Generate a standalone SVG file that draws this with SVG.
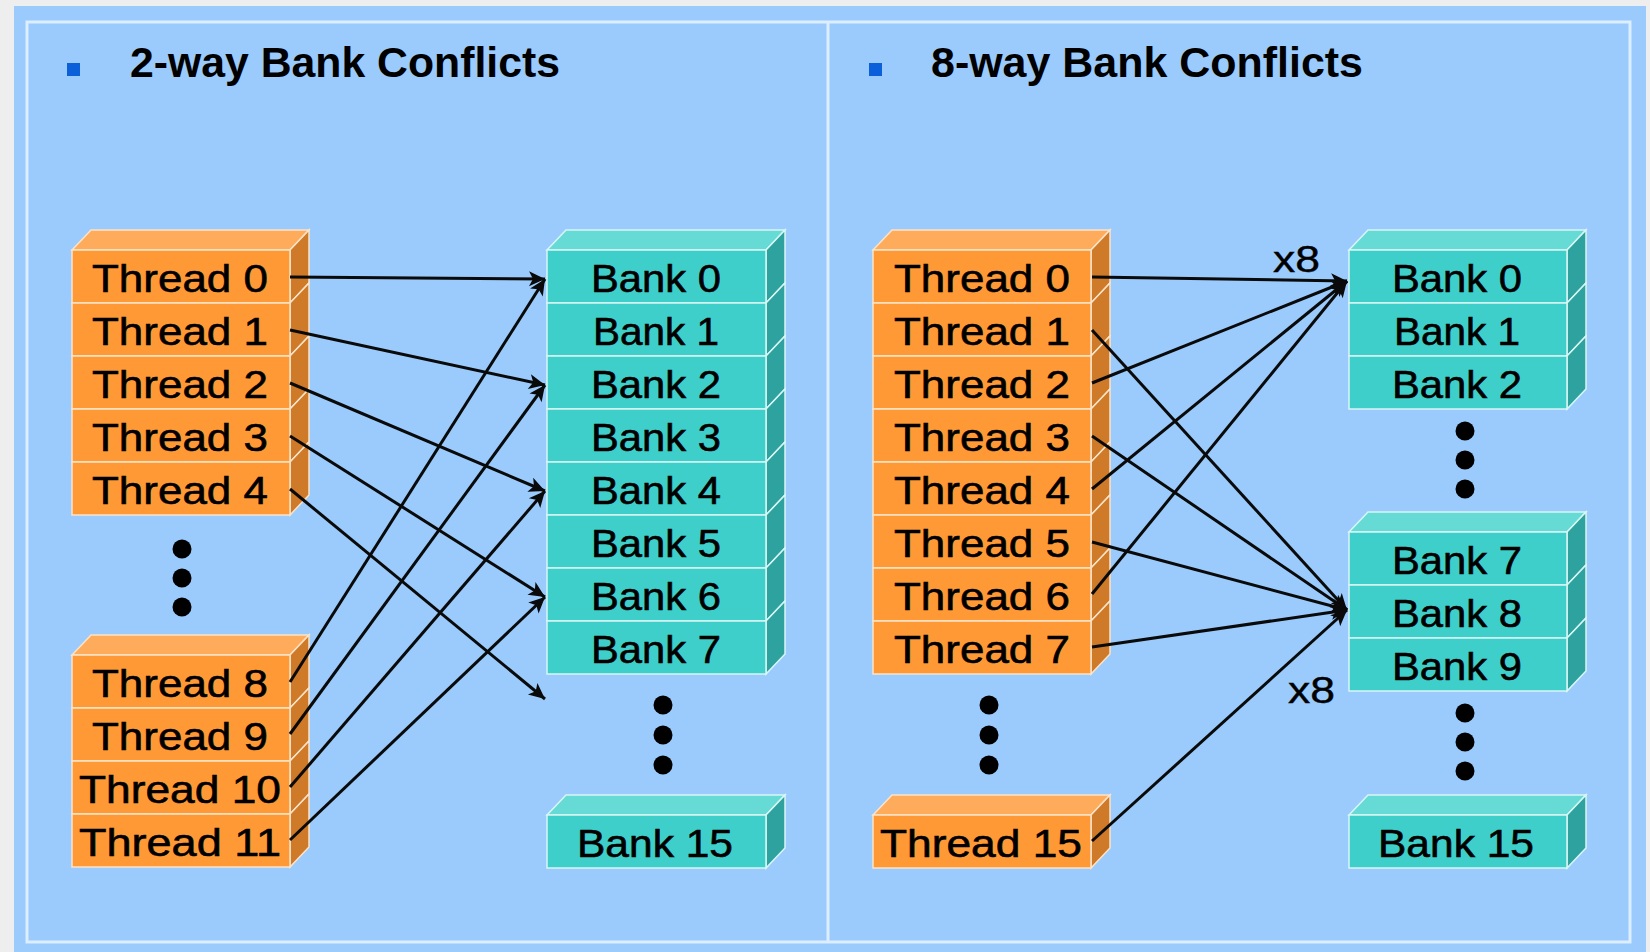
<svg xmlns="http://www.w3.org/2000/svg" width="1650" height="952" viewBox="0 0 1650 952">
<defs>
<style>
.fo{fill:#FE9935;stroke:#FBE3C8;stroke-width:1.5}
.so{fill:#CF7A28;stroke:#FBE3C8;stroke-width:1.5}
.to{fill:#FEAC5B;stroke:#FBE3C8;stroke-width:1.5}
.fb{fill:#3FCFCA;stroke:#D8F6F4;stroke-width:1.5}
.sb{fill:#2DA29E;stroke:#D8F6F4;stroke-width:1.5}
.tb{fill:#66DAD5;stroke:#D8F6F4;stroke-width:1.5}
.lbl{font-family:"Liberation Sans",Arial,sans-serif;font-size:39px;fill:#000;stroke:#000;stroke-width:0.6;text-anchor:middle}
.ttl{font-family:"Liberation Sans",Arial,sans-serif;font-size:42px;font-weight:bold;fill:#000}
.x8{font-family:"Liberation Sans",Arial,sans-serif;font-size:36px;fill:#000;stroke:#000;stroke-width:0.4}
.ln{stroke:#0A0A0A;stroke-width:3;fill:none;marker-end:url(#ah)}
.dot{fill:#000}
.border{stroke:#DCEEFF;stroke-width:3;fill:none}
</style>
<marker id="ah" markerUnits="userSpaceOnUse" markerWidth="18" markerHeight="16" refX="16" refY="7.5" orient="auto" overflow="visible">
<path d="M0,0 L16,7.5 L0,15 L4,7.5 Z" fill="#0A0A0A"/>
</marker>
</defs>
<rect x="0" y="0" width="1650" height="952" fill="#EEEEEE"/>
<rect x="14" y="6" width="1632" height="946" fill="#9ACBFC"/>
<path class="border" d="M27,22 H1630 V942 H27 Z"/>
<line class="border" x1="828" y1="22" x2="828" y2="942" stroke-width="4"/>

<g id="title-left">
<rect x="67" y="63" width="13" height="13" fill="#0B5FD8"/>
<text class="ttl" x="130" y="77" textLength="430" lengthAdjust="spacingAndGlyphs">2-way Bank Conflicts</text>
</g>
<g id="title-right">
<rect x="869" y="63" width="13" height="13" fill="#0B5FD8"/>
<text class="ttl" x="931" y="77" textLength="432" lengthAdjust="spacingAndGlyphs">8-way Bank Conflicts</text>
</g>

<!-- LEFT PANEL: threads 0-4 -->
<g id="l-thread-0"><polygon class="to" points="72,250 91,230 309,230 290,250"/><polygon class="so" points="290,250 309,230 309,283 290,303"/><rect class="fo" x="72" y="250" width="218" height="53"/><text class="lbl" x="180" y="292" textLength="176" lengthAdjust="spacingAndGlyphs">Thread 0</text></g>
<g id="l-thread-1"><polygon class="so" points="290,303 309,283 309,336 290,356"/><rect class="fo" x="72" y="303" width="218" height="53"/><text class="lbl" x="180" y="345" textLength="176" lengthAdjust="spacingAndGlyphs">Thread 1</text></g>
<g id="l-thread-2"><polygon class="so" points="290,356 309,336 309,389 290,409"/><rect class="fo" x="72" y="356" width="218" height="53"/><text class="lbl" x="180" y="398" textLength="176" lengthAdjust="spacingAndGlyphs">Thread 2</text></g>
<g id="l-thread-3"><polygon class="so" points="290,409 309,389 309,442 290,462"/><rect class="fo" x="72" y="409" width="218" height="53"/><text class="lbl" x="180" y="451" textLength="176" lengthAdjust="spacingAndGlyphs">Thread 3</text></g>
<g id="l-thread-4"><polygon class="so" points="290,462 309,442 309,495 290,515"/><rect class="fo" x="72" y="462" width="218" height="53"/><text class="lbl" x="180" y="504" textLength="176" lengthAdjust="spacingAndGlyphs">Thread 4</text></g>
<g id="l-thread-dots"><circle class="dot" cx="182" cy="549" r="9.5"/><circle class="dot" cx="182" cy="578" r="9.5"/><circle class="dot" cx="182" cy="607" r="9.5"/></g>
<!-- threads 8-11 -->
<g id="l-thread-8"><polygon class="to" points="72,655 91,635 309,635 290,655"/><polygon class="so" points="290,655 309,635 309,688 290,708"/><rect class="fo" x="72" y="655" width="218" height="53"/><text class="lbl" x="180" y="697" textLength="176" lengthAdjust="spacingAndGlyphs">Thread 8</text></g>
<g id="l-thread-9"><polygon class="so" points="290,708 309,688 309,741 290,761"/><rect class="fo" x="72" y="708" width="218" height="53"/><text class="lbl" x="180" y="750" textLength="176" lengthAdjust="spacingAndGlyphs">Thread 9</text></g>
<g id="l-thread-10"><polygon class="so" points="290,761 309,741 309,794 290,814"/><rect class="fo" x="72" y="761" width="218" height="53"/><text class="lbl" x="180" y="803" textLength="202" lengthAdjust="spacingAndGlyphs">Thread 10</text></g>
<g id="l-thread-11"><polygon class="so" points="290,814 309,794 309,847 290,867"/><rect class="fo" x="72" y="814" width="218" height="53"/><text class="lbl" x="180" y="856" textLength="202" lengthAdjust="spacingAndGlyphs">Thread 11</text></g>

<!-- LEFT PANEL: banks -->
<g id="l-bank-0"><polygon class="tb" points="547,250 566,230 785,230 766,250"/><polygon class="sb" points="766,250 785,230 785,283 766,303"/><rect class="fb" x="547" y="250" width="219" height="53"/><text class="lbl" x="656" y="292" textLength="130" lengthAdjust="spacingAndGlyphs">Bank 0</text></g>
<g id="l-bank-1"><polygon class="sb" points="766,303 785,283 785,336 766,356"/><rect class="fb" x="547" y="303" width="219" height="53"/><text class="lbl" x="656" y="345" textLength="126" lengthAdjust="spacingAndGlyphs">Bank 1</text></g>
<g id="l-bank-2"><polygon class="sb" points="766,356 785,336 785,389 766,409"/><rect class="fb" x="547" y="356" width="219" height="53"/><text class="lbl" x="656" y="398" textLength="130" lengthAdjust="spacingAndGlyphs">Bank 2</text></g>
<g id="l-bank-3"><polygon class="sb" points="766,409 785,389 785,442 766,462"/><rect class="fb" x="547" y="409" width="219" height="53"/><text class="lbl" x="656" y="451" textLength="130" lengthAdjust="spacingAndGlyphs">Bank 3</text></g>
<g id="l-bank-4"><polygon class="sb" points="766,462 785,442 785,495 766,515"/><rect class="fb" x="547" y="462" width="219" height="53"/><text class="lbl" x="656" y="504" textLength="130" lengthAdjust="spacingAndGlyphs">Bank 4</text></g>
<g id="l-bank-5"><polygon class="sb" points="766,515 785,495 785,548 766,568"/><rect class="fb" x="547" y="515" width="219" height="53"/><text class="lbl" x="656" y="557" textLength="130" lengthAdjust="spacingAndGlyphs">Bank 5</text></g>
<g id="l-bank-6"><polygon class="sb" points="766,568 785,548 785,601 766,621"/><rect class="fb" x="547" y="568" width="219" height="53"/><text class="lbl" x="656" y="610" textLength="130" lengthAdjust="spacingAndGlyphs">Bank 6</text></g>
<g id="l-bank-7"><polygon class="sb" points="766,621 785,601 785,654 766,674"/><rect class="fb" x="547" y="621" width="219" height="53"/><text class="lbl" x="656" y="663" textLength="130" lengthAdjust="spacingAndGlyphs">Bank 7</text></g>
<g id="l-bank-dots"><circle class="dot" cx="663" cy="705" r="9.5"/><circle class="dot" cx="663" cy="735" r="9.5"/><circle class="dot" cx="663" cy="765" r="9.5"/></g>
<g id="l-bank-15"><polygon class="tb" points="547,815 566,795 785,795 766,815"/><polygon class="sb" points="766,815 785,795 785,848 766,868"/><rect class="fb" x="547" y="815" width="219" height="53"/><text class="lbl" x="655" y="857" textLength="156" lengthAdjust="spacingAndGlyphs">Bank 15</text></g>

<!-- RIGHT PANEL: threads -->
<g id="r-thread-0"><polygon class="to" points="873,250 892,230 1110,230 1091,250"/><polygon class="so" points="1091,250 1110,230 1110,283 1091,303"/><rect class="fo" x="873" y="250" width="218" height="53"/><text class="lbl" x="982" y="292" textLength="176" lengthAdjust="spacingAndGlyphs">Thread 0</text></g>
<g id="r-thread-1"><polygon class="so" points="1091,303 1110,283 1110,336 1091,356"/><rect class="fo" x="873" y="303" width="218" height="53"/><text class="lbl" x="982" y="345" textLength="176" lengthAdjust="spacingAndGlyphs">Thread 1</text></g>
<g id="r-thread-2"><polygon class="so" points="1091,356 1110,336 1110,389 1091,409"/><rect class="fo" x="873" y="356" width="218" height="53"/><text class="lbl" x="982" y="398" textLength="176" lengthAdjust="spacingAndGlyphs">Thread 2</text></g>
<g id="r-thread-3"><polygon class="so" points="1091,409 1110,389 1110,442 1091,462"/><rect class="fo" x="873" y="409" width="218" height="53"/><text class="lbl" x="982" y="451" textLength="176" lengthAdjust="spacingAndGlyphs">Thread 3</text></g>
<g id="r-thread-4"><polygon class="so" points="1091,462 1110,442 1110,495 1091,515"/><rect class="fo" x="873" y="462" width="218" height="53"/><text class="lbl" x="982" y="504" textLength="176" lengthAdjust="spacingAndGlyphs">Thread 4</text></g>
<g id="r-thread-5"><polygon class="so" points="1091,515 1110,495 1110,548 1091,568"/><rect class="fo" x="873" y="515" width="218" height="53"/><text class="lbl" x="982" y="557" textLength="176" lengthAdjust="spacingAndGlyphs">Thread 5</text></g>
<g id="r-thread-6"><polygon class="so" points="1091,568 1110,548 1110,601 1091,621"/><rect class="fo" x="873" y="568" width="218" height="53"/><text class="lbl" x="982" y="610" textLength="176" lengthAdjust="spacingAndGlyphs">Thread 6</text></g>
<g id="r-thread-7"><polygon class="so" points="1091,621 1110,601 1110,654 1091,674"/><rect class="fo" x="873" y="621" width="218" height="53"/><text class="lbl" x="982" y="663" textLength="176" lengthAdjust="spacingAndGlyphs">Thread 7</text></g>
<g id="r-thread-dots"><circle class="dot" cx="989" cy="705" r="9.5"/><circle class="dot" cx="989" cy="735" r="9.5"/><circle class="dot" cx="989" cy="765" r="9.5"/></g>
<g id="r-thread-15"><polygon class="to" points="873,815 892,795 1110,795 1091,815"/><polygon class="so" points="1091,815 1110,795 1110,848 1091,868"/><rect class="fo" x="873" y="815" width="218" height="53"/><text class="lbl" x="981" y="857" textLength="202" lengthAdjust="spacingAndGlyphs">Thread 15</text></g>

<!-- RIGHT PANEL: banks -->
<g id="r-bank-0"><polygon class="tb" points="1349,250 1368,230 1586,230 1567,250"/><polygon class="sb" points="1567,250 1586,230 1586,283 1567,303"/><rect class="fb" x="1349" y="250" width="218" height="53"/><text class="lbl" x="1457" y="292" textLength="130" lengthAdjust="spacingAndGlyphs">Bank 0</text></g>
<g id="r-bank-1"><polygon class="sb" points="1567,303 1586,283 1586,336 1567,356"/><rect class="fb" x="1349" y="303" width="218" height="53"/><text class="lbl" x="1457" y="345" textLength="126" lengthAdjust="spacingAndGlyphs">Bank 1</text></g>
<g id="r-bank-2"><polygon class="sb" points="1567,356 1586,336 1586,389 1567,409"/><rect class="fb" x="1349" y="356" width="218" height="53"/><text class="lbl" x="1457" y="398" textLength="130" lengthAdjust="spacingAndGlyphs">Bank 2</text></g>
<g id="r-bank-dots-1"><circle class="dot" cx="1465" cy="431" r="9.5"/><circle class="dot" cx="1465" cy="460" r="9.5"/><circle class="dot" cx="1465" cy="489" r="9.5"/></g>
<g id="r-bank-7"><polygon class="tb" points="1349,532 1368,512 1586,512 1567,532"/><polygon class="sb" points="1567,532 1586,512 1586,565 1567,585"/><rect class="fb" x="1349" y="532" width="218" height="53"/><text class="lbl" x="1457" y="574" textLength="130" lengthAdjust="spacingAndGlyphs">Bank 7</text></g>
<g id="r-bank-8"><polygon class="sb" points="1567,585 1586,565 1586,618 1567,638"/><rect class="fb" x="1349" y="585" width="218" height="53"/><text class="lbl" x="1457" y="627" textLength="130" lengthAdjust="spacingAndGlyphs">Bank 8</text></g>
<g id="r-bank-9"><polygon class="sb" points="1567,638 1586,618 1586,671 1567,691"/><rect class="fb" x="1349" y="638" width="218" height="53"/><text class="lbl" x="1457" y="680" textLength="130" lengthAdjust="spacingAndGlyphs">Bank 9</text></g>
<g id="r-bank-dots-2"><circle class="dot" cx="1465" cy="713" r="9.5"/><circle class="dot" cx="1465" cy="742" r="9.5"/><circle class="dot" cx="1465" cy="771" r="9.5"/></g>
<g id="r-bank-15"><polygon class="tb" points="1349,815 1368,795 1586,795 1567,815"/><polygon class="sb" points="1567,815 1586,795 1586,848 1567,868"/><rect class="fb" x="1349" y="815" width="218" height="53"/><text class="lbl" x="1456" y="857" textLength="156" lengthAdjust="spacingAndGlyphs">Bank 15</text></g>

<g id="connectors">
<line class="ln" x1="290" y1="277" x2="545" y2="279"/>
<line class="ln" x1="290" y1="330" x2="545" y2="385"/>
<line class="ln" x1="290" y1="383" x2="545" y2="491"/>
<line class="ln" x1="290" y1="436" x2="545" y2="597"/>
<line class="ln" x1="290" y1="489" x2="545" y2="699"/>
<line class="ln" x1="290" y1="682" x2="545" y2="279"/>
<line class="ln" x1="290" y1="734" x2="545" y2="385"/>
<line class="ln" x1="290" y1="787" x2="545" y2="491"/>
<line class="ln" x1="290" y1="840" x2="545" y2="597"/>

<line class="ln" x1="1092" y1="277" x2="1347" y2="281"/>
<line class="ln" x1="1092" y1="383" x2="1347" y2="281"/>
<line class="ln" x1="1092" y1="489" x2="1347" y2="281"/>
<line class="ln" x1="1092" y1="594" x2="1347" y2="281"/>
<line class="ln" x1="1092" y1="330" x2="1347" y2="610"/>
<line class="ln" x1="1092" y1="436" x2="1347" y2="610"/>
<line class="ln" x1="1092" y1="542" x2="1347" y2="610"/>
<line class="ln" x1="1092" y1="647" x2="1347" y2="610"/>
<line class="ln" x1="1092" y1="841" x2="1347" y2="610"/>
<text class="x8" x="1273" y="272" textLength="47" lengthAdjust="spacingAndGlyphs">x8</text>
<text class="x8" x="1288" y="703" textLength="47" lengthAdjust="spacingAndGlyphs">x8</text>
</g>
</svg>
